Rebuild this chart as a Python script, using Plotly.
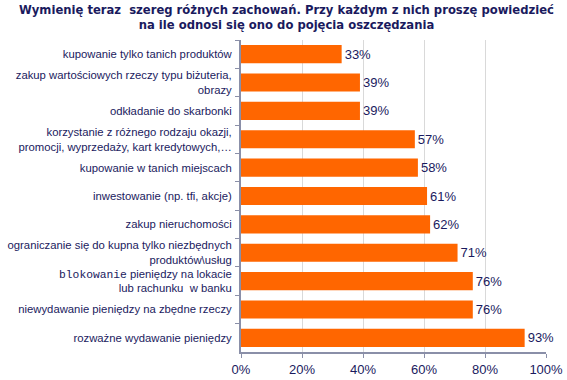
import plotly.graph_objects as go

categories = [
    "kupowanie tylko tanich produktów",
    "zakup wartościowych rzeczy typu biżuteria,<br>obrazy",
    "odkładanie do skarbonki",
    "korzystanie z różnego rodzaju okazji,<br>promocji, wyprzedaży, kart kredytowych,…",
    "kupowanie w tanich miejscach",
    "inwestowanie (np. tfi, akcje)",
    "zakup nieruchomości",
    "ograniczanie się do kupna tylko niezbędnych<br>produktów\\usług",
    "<span style=\"font-family:'Liberation Mono'\">blokowanie</span> pieniędzy na lokacie<br>lub rachunku  w banku",
    "niewydawanie pieniędzy na zbędne rzeczy",
    "rozważne wydawanie pieniędzy",
]
values = [33, 39, 39, 57, 58, 61, 62, 71, 76, 76, 93]
labels = [f"{v}%" for v in values]
title = "<b>Wymienię teraz  szereg różnych zachowań. Przy każdym z nich proszę powiedzieć<br>na ile odnosi się ono do pojęcia oszczędzania</b>"

navy = "#1a1a5e"

fig = go.Figure(go.Bar(
    y=categories, x=values, orientation="h",
    marker=dict(color="#ff6600", line=dict(width=0)),
    text=labels, textposition="outside",
    textfont=dict(family="Liberation Sans, Arial", size=13, color=navy),
    cliponaxis=False,
))

fig.update_layout(
    width=567, height=380,
    margin=dict(l=241, r=21, t=40, b=28, autoexpand=False),
    paper_bgcolor="white", plot_bgcolor="white",
    bargap=0.36,
    showlegend=False,
    font=dict(family="Liberation Sans, Arial", color=navy),
    annotations=[dict(
        text=title, xref="paper", yref="paper", x=0.5, y=1, yshift=6,
        xanchor="center", yanchor="bottom", showarrow=False,
        xshift=(286 - (241 + 305 / 2)),
        font=dict(family="DejaVu Sans, Verdana", size=11.6, color=navy),
    )],
)
fig.update_xaxes(
    range=[0, 100], tickvals=[0, 20, 40, 60, 80, 100],
    ticktext=["0%", "20%", "40%", "60%", "80%", "100%"],
    showgrid=True, gridcolor="#d9d9d9", gridwidth=1,
    showline=True, linecolor="#8a8fa8", linewidth=2,
    ticks="outside", ticklen=4, tickcolor="#8a8fa8",
    tickfont=dict(size=13, color=navy), zeroline=False, automargin=False,
)
fig.update_yaxes(
    autorange="reversed", automargin=False,
    showline=True, linecolor="#8a8fa8", linewidth=2,
    ticks="outside", ticklen=4, tickcolor="#8a8fa8", tickson="boundaries",
    ticklabelstandoff=5,
    tickfont=dict(size=11.3, color=navy), showgrid=False,
)

fig.write_html("out.html", config={"displayModeBar": False},
               post_script="document.body.style.margin='0';")
